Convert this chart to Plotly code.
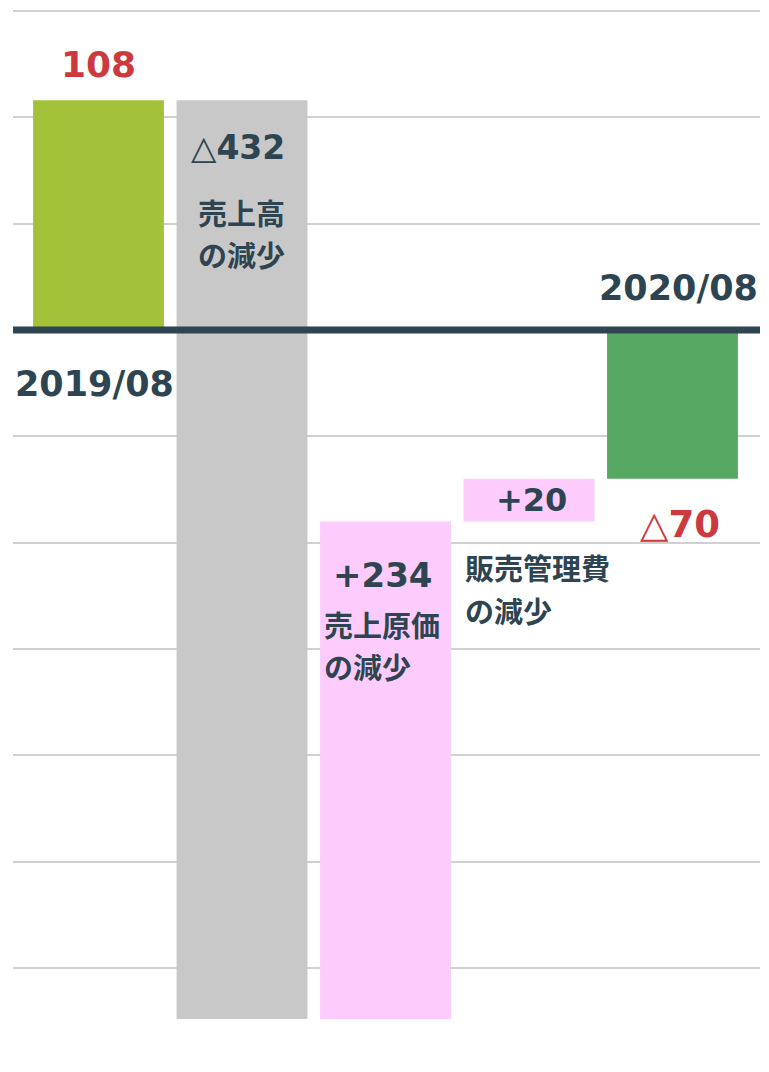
import plotly.graph_objects as go

# waterfall data (operating profit bridge)
categories = ["2019/08", "売上高の減少", "売上原価の減少", "販売管理費の減少", "2020/08"]
start_value = 108
changes = [-432, 234, 20]
end_value = start_value + sum(changes)  # -70
bar_colors = ["#a3c23a", "#c8c8c8", "#fdccfd", "#fdccfd", "#57a862"]

TEXT = "#2e4450"
RED = "#cc3a40"
LATIN = "DejaVu Sans"
CJK = "Noto Sans CJK JP"


def main():
    # bases / heights for a floating-bar waterfall
    bases, heights = [0], [start_value]
    level = start_value
    for c in changes:
        bases.append(level)
        heights.append(c)
        level += c
    bases.append(0)
    heights.append(end_value)

    fig = go.Figure(go.Bar(
        x=categories, y=heights, base=bases,
        marker=dict(color=bar_colors, line=dict(width=0)),
        hoverinfo="skip", showlegend=False,
    ))

    tops = [max(b, b + h) for b, h in zip(bases, heights)]
    bottoms = [min(b, b + h) for b, h in zip(bases, heights)]

    def label(i, y, text, xs, ys, size, color=TEXT, family=LATIN, anchor="center"):
        fig.add_annotation(
            x=categories[i], y=y, text=text, showarrow=False,
            xanchor=anchor, yanchor="middle", xshift=xs, yshift=ys,
            font=dict(family=family, size=size, color=color, weight="bold"))

    tri = '<span style="font-weight:normal">△</span>'

    label(0, tops[0], str(start_value), 0, 36, 36, RED)
    label(0, 0, "2019/08", -4, -54, 35)

    label(1, tops[1], tri + str(abs(changes[0])), -4, -47, 33)
    label(1, tops[1], "売上高", -46, -112, 29, family=CJK, anchor="left")
    label(1, tops[1], "の減少", -46, -154, 29, family=CJK, anchor="left")

    label(2, tops[2], "+" + str(changes[1]), -3, -54, 34)
    label(2, tops[2], "売上原価", -64, -103, 29, family=CJK, anchor="left")
    label(2, tops[2], "の減少", -64, -145, 29, family=CJK, anchor="left")

    label(3, (tops[3] + bottoms[3]) / 2, "+" + str(changes[2]), 2, 0, 32)
    label(3, bottoms[3], "販売管理費", -66, -46, 29, family=CJK, anchor="left")
    label(3, bottoms[3], "の減少", -66, -89, 29, family=CJK, anchor="left")

    label(4, 0, "2020/08", 6, 42, 35)
    label(4, end_value, tri + str(abs(end_value)), 7, -46, 37, RED)

    # thick baseline drawn over the bars
    fig.add_shape(type="line", xref="paper", x0=0, x1=1, y0=0, y1=0,
                  line=dict(color=TEXT, width=7), layer="above")

    # the page body adds an 8px margin, so the figure is 8px smaller
    fig.update_layout(
        width=761, height=1064,
        margin=dict(l=5, r=9, t=0, b=0),
        paper_bgcolor="white", plot_bgcolor="white",
        bargap=0.088,
        xaxis=dict(showticklabels=False, showgrid=False, zeroline=False,
                   showline=False),
        yaxis=dict(range=[-348.9, 151.4], dtick=50, tick0=0,
                   showticklabels=False, showgrid=True, gridcolor="#d0d0d0",
                   gridwidth=2, zeroline=False, showline=False),
    )
    fig.write_html("out.html")


if __name__ == "__main__":
    main()
